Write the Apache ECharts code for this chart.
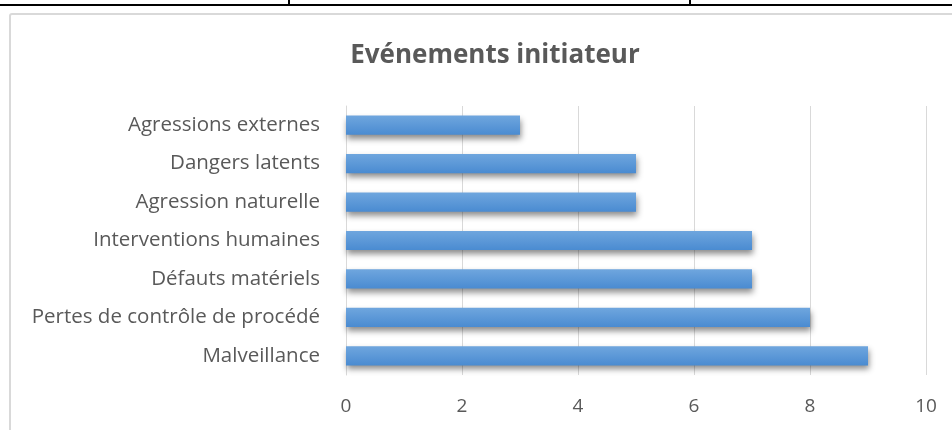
<!DOCTYPE html>
<html>
<head>
<meta charset="utf-8">
<script src="https://cdn.jsdelivr.net/npm/echarts@6/dist/echarts.min.js"></script>
<style>
html,body{margin:0;padding:0;background:#fff;}
#wrap{position:relative;width:952px;height:430px;overflow:hidden;}
#tline{position:absolute;left:0;top:4px;width:952px;height:2px;background:#000;}
.tv{position:absolute;top:0;width:2px;height:6px;background:#000;}
#box{position:absolute;left:9px;top:13px;width:1000px;height:500px;border:2px solid #d9d9d9;box-sizing:border-box;border-radius:3px;}
#chart{position:absolute;left:0;top:0;width:952px;height:430px;}
</style>
</head>
<body>
<div id="wrap">
<div id="tline"></div>
<div class="tv" style="left:288px"></div>
<div class="tv" style="left:689px"></div>
<div id="box"></div>
<div id="chart"></div>
</div>
<script>
var categories = ["Malveillance","Pertes de contrôle de procédé","Défauts matériels","Interventions humaines","Agression naturelle","Dangers latents","Agressions externes"];
var values = [9, 8, 7, 7, 5, 5, 3];
var ticks = [0, 2, 4, 6, 8, 10];

var chart = echarts.init(document.getElementById('chart'), null, {renderer:'canvas'});
chart.setOption({
  backgroundColor: 'transparent',
  animation: false,
  title: {
    text: 'Evénements initiateur',
    left: 490, top: 38, textAlign: 'center',
    textStyle: {fontFamily: 'Open Sans', fontWeight: 'bold', fontSize: 26, color: '#595959'}
  },
  grid: {left: 346, right: 26, top: 106, bottom: 55},
  xAxis: {
    type: 'value', min: ticks[0], max: ticks[ticks.length-1], interval: 2,
    axisLine: {show: false}, axisTick: {show: false},
    splitLine: {show: true, lineStyle: {color: '#d9d9d9', width: 1}},
    axisLabel: {fontFamily: 'Open Sans', fontSize: 19, color: '#595959', margin: 22}
  },
  yAxis: {
    type: 'category', data: categories,
    axisLine: {show: true, lineStyle: {color: '#d9d9d9', width: 1}},
    axisTick: {show: false},
    axisLabel: {fontFamily: 'Open Sans', fontSize: 20.5, color: '#595959', margin: 26}
  },
  series: [{
    type: 'bar', data: values, barWidth: '50%',
    itemStyle: {
      color: new echarts.graphic.LinearGradient(0, 0, 0, 1, [
        {offset: 0, color: '#6fa6de'}, {offset: 1, color: '#4a8bd1'}
      ]),
      shadowColor: 'rgba(0,0,0,0.45)', shadowBlur: 6, shadowOffsetX: 1, shadowOffsetY: 4
    }
  }]
});
</script>
</body>
</html>
